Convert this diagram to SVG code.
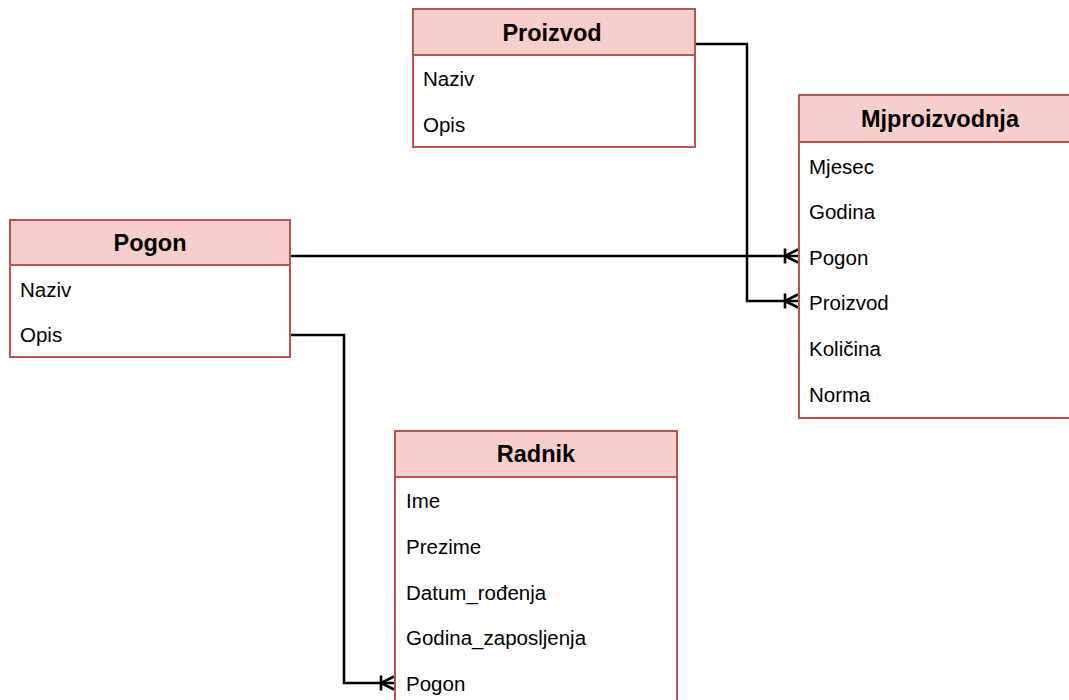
<svg xmlns="http://www.w3.org/2000/svg" width="1069" height="700" viewBox="0 0 1069 700">
<style>
.hdr{fill:#f8cecc;stroke:#b85450;stroke-width:2}
.body{fill:#fff;stroke:#b85450;stroke-width:2}
.ht{font-family:"Liberation Sans",Arial,sans-serif;font-weight:bold;font-size:23.5px;fill:#000;text-anchor:middle}
.rt{font-family:"Liberation Sans",Arial,sans-serif;font-size:20.5px;fill:#000}
.conn{fill:none;stroke:#000;stroke-width:2.5}
</style>
<defs>
<marker id="many" markerWidth="30" markerHeight="30" refX="0" refY="0" orient="auto" markerUnits="userSpaceOnUse" overflow="visible">
<path d="M0,-6.5 L-13,0 L0,6.5 M-13,-7.5 V7.5" fill="none" stroke="#000" stroke-width="2.6"/>
</marker>
</defs>
<rect width="1069" height="700" fill="#fff"/>
<g id="connectors">
<path class="conn" d="M695,44 H747 V301 H798" marker-end="url(#many)"/>
<path class="conn" d="M290,256 H798" marker-end="url(#many)"/>
<path class="conn" d="M290,335 H344 V683 H394" marker-end="url(#many)"/>
</g>
<g id="proizvod">
<rect class="body" x="413" y="9" width="282" height="138"/>
<rect class="hdr" x="413" y="9" width="282" height="46"/>
<text class="ht" x="552" y="40.5">Proizvod</text>
<text class="rt" x="423" y="86">Naziv</text>
<text class="rt" x="423" y="132">Opis</text>
</g>
<g id="mjproizvodnja">
<rect class="body" x="799" y="95" width="282" height="323"/>
<rect class="hdr" x="799" y="95" width="282" height="47"/>
<text class="ht" x="940" y="127">Mjproizvodnja</text>
<text class="rt" x="809" y="174">Mjesec</text>
<text class="rt" x="809" y="219">Godina</text>
<text class="rt" x="809" y="265">Pogon</text>
<text class="rt" x="809" y="310">Proizvod</text>
<text class="rt" x="809" y="356">Količina</text>
<text class="rt" x="809" y="402">Norma</text>
</g>
<g id="pogon">
<rect class="body" x="10" y="220" width="280" height="137"/>
<rect class="hdr" x="10" y="220" width="280" height="45"/>
<text class="ht" x="150" y="251">Pogon</text>
<text class="rt" x="20" y="297">Naziv</text>
<text class="rt" x="20" y="342">Opis</text>
</g>
<g id="radnik">
<rect class="body" x="395" y="431" width="282" height="277"/>
<rect class="hdr" x="395" y="431" width="282" height="46"/>
<text class="ht" x="536" y="462">Radnik</text>
<text class="rt" x="406" y="508">Ime</text>
<text class="rt" x="406" y="554">Prezime</text>
<text class="rt" x="406" y="600">Datum_rođenja</text>
<text class="rt" x="406" y="645">Godina_zaposljenja</text>
<text class="rt" x="406" y="691">Pogon</text>
</g>
</svg>
